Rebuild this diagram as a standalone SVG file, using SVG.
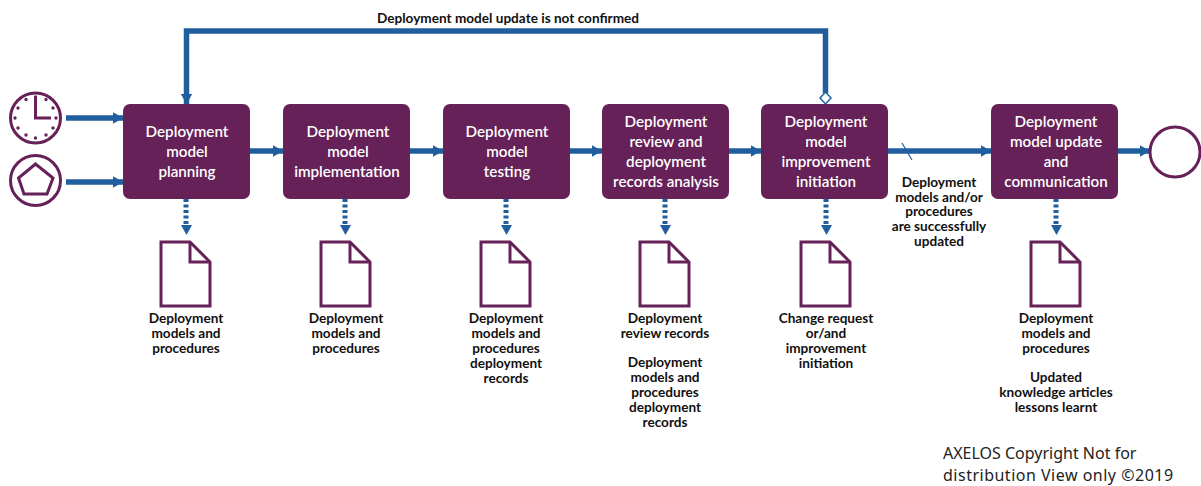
<svg xmlns="http://www.w3.org/2000/svg" width="1201" height="486" viewBox="0 0 1201 486">
<defs>
<marker id="ah" markerUnits="userSpaceOnUse" markerWidth="11" markerHeight="12" refX="10.5" refY="6" orient="auto"><path d="M0 0L10.5 6L0 12Z" fill="#215e9e"/></marker>
<symbol id="doc" overflow="visible"><path class="doc" d="M161 242H190L210 262V306H161Z"/><path class="doc" d="M190 242V262H210"/></symbol>
</defs>
<style>
text{font-family:"Lato","Liberation Sans",sans-serif;text-anchor:middle}
.box{fill:#662158}
.bt{fill:#fff;font-size:15.2px;font-weight:600}
.lb{fill:#111;font-size:13.6px;font-weight:700}
.ln{fill:none;stroke:#215e9e;stroke-width:5.500;marker-end:url(#ah)}
.dn{fill:none;stroke:#215e9e;stroke-width:5;stroke-dasharray:3 2.500}
.hd{fill:#215e9e}
.doc,.ic{fill:none;stroke:#662158;stroke-width:3}
</style>
<g id="connectors">
<path class="ln" d="M66 118H123"/>
<path class="ln" d="M66 182H123"/>
<path class="ln" d="M250 151H283"/>
<path class="ln" d="M410 151H443"/>
<path class="ln" d="M570 151H602"/>
<path class="ln" d="M729 151H761"/>
<path class="ln" d="M888 151H991"/>
<path class="ln" d="M1118 151H1150"/>
<path d="M902 143L912 160" fill="none" stroke="#215e9e" stroke-width="1.200"/>
<path class="ln" d="M825.500 93V31H186.500V104"/>
<path d="M825.500 92L831 98L825.500 104L820 98Z" fill="#fff" stroke="#215e9e" stroke-width="1.500"/>
<g id="dashed">
<path class="dn" d="M186 199V224"/><path class="hd" d="M181 225H192L186.500 235Z"/>
<path class="dn" d="M345 199V224"/><path class="hd" d="M340 225H351L345.500 235Z"/>
<path class="dn" d="M506 199V224"/><path class="hd" d="M501 225H512L506.500 235Z"/>
<path class="dn" d="M665 199V224"/><path class="hd" d="M660 225H671L665.500 235Z"/>
<path class="dn" d="M826 199V224"/><path class="hd" d="M821 225H832L826.500 235Z"/>
<path class="dn" d="M1056 199V224"/><path class="hd" d="M1051 225H1062L1056.500 235Z"/>
</g>
</g>
<g id="start-timer">
<circle class="ic" cx="35.500" cy="118" r="25"/>
<path class="ic" d="M35.500 97V118H51"/>
<path d="M35.500 97v0M46 99.500v0M53 108v0M56 118v0M53 128v0M46 135v0M35.500 138v0M26 135v0M18 128v0M15 118v0M18 108v0M26 99.500v0" fill="none" stroke="#662158" stroke-width="3.400" stroke-linecap="round"/>
</g>
<g id="start-signal">
<circle class="ic" cx="35.500" cy="180.500" r="25"/>
<path class="ic" d="M35.500 164L53 178L47 194H24L18.500 178Z"/>
</g>
<g id="n1"><rect class="box" x="123" y="104" width="127" height="95" rx="7"/>
<text class="bt"><tspan x="187" y="137">Deployment</tspan><tspan x="187" y="157">model</tspan><tspan x="187" y="177">planning</tspan></text></g>
<g id="n2"><rect class="box" x="283" y="104" width="127" height="95" rx="7"/>
<text class="bt"><tspan x="348" y="137">Deployment</tspan><tspan x="348" y="157">model</tspan><tspan x="347" y="177">implementation</tspan></text></g>
<g id="n3"><rect class="box" x="443" y="104" width="127" height="95" rx="7"/>
<text class="bt"><tspan x="507" y="137">Deployment</tspan><tspan x="507" y="157">model</tspan><tspan x="507" y="177">testing</tspan></text></g>
<g id="n4"><rect class="box" x="602" y="104" width="127" height="95" rx="7"/>
<text class="bt"><tspan x="666" y="127">Deployment</tspan><tspan x="666" y="147">review and</tspan><tspan x="666" y="167">deployment</tspan><tspan x="666" y="187">records analysis</tspan></text></g>
<g id="n5"><rect class="box" x="761" y="104" width="127" height="95" rx="7"/>
<text class="bt"><tspan x="826" y="127">Deployment</tspan><tspan x="826" y="147">model</tspan><tspan x="826" y="167">improvement</tspan><tspan x="826" y="187">initiation</tspan></text></g>
<g id="n6"><rect class="box" x="991" y="104" width="127" height="95" rx="7"/>
<text class="bt"><tspan x="1056" y="127">Deployment</tspan><tspan x="1056" y="147">model update</tspan><tspan x="1056" y="167">and</tspan><tspan x="1056" y="187">communication</tspan></text></g>
<g id="end"><circle class="ic" cx="1175" cy="152" r="25"/></g>
<g id="d1"><use href="#doc"/><text class="lb"><tspan x="186" y="323">Deployment</tspan><tspan x="186" y="338">models and</tspan><tspan x="186" y="353">procedures</tspan></text></g>
<g id="d2"><use href="#doc" x="160"/><text class="lb"><tspan x="346" y="323">Deployment</tspan><tspan x="346" y="338">models and</tspan><tspan x="346" y="353">procedures</tspan></text></g>
<g id="d3"><use href="#doc" x="320"/><text class="lb"><tspan x="506" y="323">Deployment</tspan><tspan x="506" y="338">models and</tspan><tspan x="506" y="353">procedures</tspan><tspan x="506" y="368">deployment</tspan><tspan x="506" y="383">records</tspan></text></g>
<g id="d4"><use href="#doc" x="479"/><text class="lb"><tspan x="665" y="323">Deployment</tspan><tspan x="665" y="338">review records</tspan><tspan x="665" y="367">Deployment</tspan><tspan x="665" y="382">models and</tspan><tspan x="665" y="397">procedures</tspan><tspan x="665" y="412">deployment</tspan><tspan x="665" y="427">records</tspan></text></g>
<g id="d5"><use href="#doc" x="640"/><text class="lb"><tspan x="826" y="323">Change request</tspan><tspan x="826" y="338">or/and</tspan><tspan x="826" y="353">improvement</tspan><tspan x="826" y="368">initiation</tspan></text></g>
<g id="d6"><use href="#doc" x="870"/><text class="lb"><tspan x="1056" y="323">Deployment</tspan><tspan x="1056" y="338">models and</tspan><tspan x="1056" y="353">procedures</tspan><tspan x="1056" y="382">Updated</tspan><tspan x="1056" y="397">knowledge articles</tspan><tspan x="1056" y="412">lessons learnt</tspan></text></g>
<text class="lb" x="508" y="23">Deployment model update is not confirmed</text>
<text class="lb"><tspan x="939" y="187">Deployment</tspan><tspan x="939" y="202">models and/or</tspan><tspan x="939" y="216">procedures</tspan><tspan x="939" y="231">are successfully</tspan><tspan x="939" y="246">updated</tspan></text>
<text style="text-anchor:start;font-family:'Noto Sans','Open Sans',sans-serif;font-size:16px;fill:#222"><tspan x="943" y="459">AXELOS Copyright Not for</tspan><tspan x="943" y="481" letter-spacing="0.500">distribution View only ©2019</tspan></text>
</svg>
